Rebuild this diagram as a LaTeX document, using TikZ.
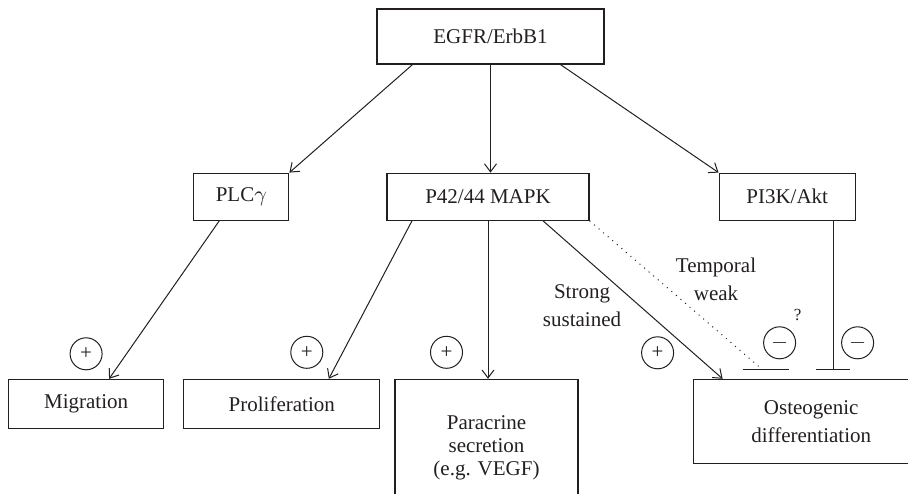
\documentclass[tikz,border=0pt]{standalone}
\usepackage{fontspec}
\setmainfont{Liberation Serif}
\usetikzlibrary{arrows.meta,positioning}
\definecolor{linecolor}{RGB}{35,31,32}

\begin{document}
\begin{tikzpicture}[
    x=0.5pt, y=-0.5pt,
    font=\fontsize{10.5}{14}\selectfont,
    every node/.style={text=linecolor},
    box/.style={rectangle, draw=linecolor, line width=0.6pt, inner sep=0pt, align=center},
    sign/.style={circle, draw=linecolor, line width=0.5pt, minimum size=16pt, inner sep=0pt},
    arrow/.style={-{Straight Barb[length=4pt, width=6pt]}, line width=0.5pt, draw=linecolor},
    inhibit/.style={line width=0.5pt, draw=linecolor},
    note/.style={align=center}
]

% Frame
\useasboundingbox (0,0) rectangle (908,493);
\clip (0,0) rectangle (908,493);

% Receptor
\node[box, minimum width=113.5pt, minimum height=27.5pt] (egfr) at (490.5,36.5) {EGFR/ErbB1};

% Pathways
\node[box, minimum width=101pt, minimum height=23.5pt, below=54pt of egfr, xshift=-1.25pt] (mapk) {P42/44 MAPK};
\node[box, minimum width=47.5pt, minimum height=23.5pt, left=48.5pt of mapk] (plc) {PLC$\gamma$};
\node[box, minimum width=68pt, minimum height=23.5pt, right=64.5pt of mapk] (pi3k) {PI3K/Akt};

% Cell responses
\node[box, minimum width=91.5pt, minimum height=68pt, below=79pt of mapk, xshift=-0.75pt,
      font=\fontsize{10.5}{11.5}\selectfont] (parac) {Paracrine\\secretion\\(e.g. VEGF)};
\node[box, minimum width=98pt, minimum height=24.5pt, left=7pt of parac.north west, anchor=north east] (prolif) {Proliferation};
\node[box, minimum width=77.5pt, minimum height=24.5pt, left=9.5pt of prolif] (migr) {Migration};
\node[box, minimum width=118pt, minimum height=42pt, right=57pt of parac.north east, anchor=north west] (osteo) {Osteogenic\\differentiation};

% Signs
\node[sign, above=4.25pt of migr] (pmigr) {+};
\node[sign, above=5pt of prolif.north, xshift=12.5pt] (pprolif) {+};
\node[sign, above=5pt of parac.north, xshift=-20pt] (pparac) {+};
\node[sign, above=4.75pt of osteo.north west, xshift=-17.5pt] (posteo) {+};
\node[sign, above=9.75pt of osteo.north west, xshift=43.5pt] (mtemp) {$-$};
\node[sign, above=9.75pt of osteo.north west, xshift=82.5pt] (makt) {$-$};
\node[font=\fontsize{8.5}{9}\selectfont] (query) at ([shift={(9pt,14pt)}]mtemp.center) {?};

% Inhibition ends
\coordinate (bartemp) at ([shift={(35pt,4.5pt)}]osteo.north west);
\path ([xshift=23pt]pi3k.south) coordinate (akt);
\coordinate (barakt) at (akt |- bartemp);

% Signal strength labels
\node[note] (strong) at (582,306) {Strong\\sustained};
\node[note] (temporal) at (716,279) {Temporal\\weak};

% Arrows
\draw[arrow] ([xshift=-39pt]egfr.south) -- (plc.north east);
\draw[arrow] (egfr.south) -- (egfr.south |- mapk.north);
\draw[arrow] ([xshift=35pt]egfr.south) -- (pi3k.north west);
\draw[arrow] ([xshift=-11pt]plc.south) -- ([xshift=11.5pt]migr.north);
\draw[arrow] ([xshift=-38pt]mapk.south) -- ([xshift=23.5pt]prolif.north);
\draw[arrow] (mapk.south) -- (mapk.south |- parac.north);
\draw[arrow] ([xshift=27.5pt]mapk.south) -- ([xshift=15pt]osteo.north west);
\draw[inhibit, dash pattern=on 0.5pt off 2.5pt] (mapk.south east) -- (bartemp);
\draw[inhibit] (bartemp) ++(-10pt,0) -- ++(23pt,0);
\draw[inhibit] (akt) -- (barakt);
\draw[inhibit] (barakt) ++(-8.5pt,0) -- ++(17pt,0);

\end{tikzpicture}
\end{document}
